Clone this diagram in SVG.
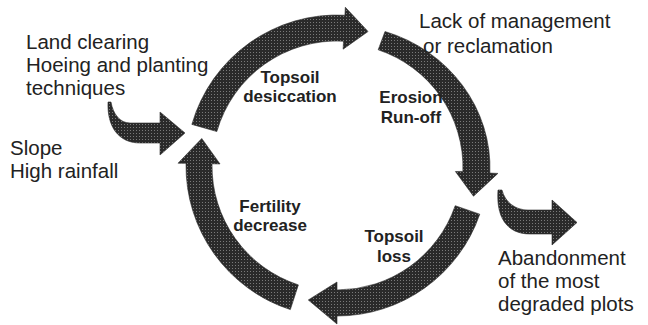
<svg xmlns="http://www.w3.org/2000/svg" width="648" height="325" viewBox="0 0 648 325">
<defs>
<pattern id="tex" width="3" height="3" patternUnits="userSpaceOnUse">
<rect width="3" height="3" fill="#2a2a2a"/>
<rect x="1" y="1" width="1" height="1" fill="#7a7a7a"/>
</pattern>
</defs>
<style>
.arr{fill:url(#tex);stroke:#2a2a2a;stroke-width:0.6}
.t{font-family:"Liberation Sans",Arial,sans-serif;font-size:20.5px;fill:#222}
.b{font-family:"Liberation Sans",Arial,sans-serif;font-size:17px;font-weight:bold;fill:#222;text-anchor:middle}
</style>
<rect width="648" height="325" fill="#ffffff"/>
<g id="connectors">
<path class="arr" d="M191.85,124.38 A151,151 0 0 1 344.90,15.21 L345.32,7.22 L368.04,31.54 L343.12,49.16 L343.54,41.17 A125,125 0 0 0 216.84,131.54 Z"/>
<path class="arr" d="M385,31.5 A150,143 0 0 1 489.9,173.1 L497.9,173.4 L473.5,196.2 L455.4,171.5 L462.9,171.4 A124,124 0 0 0 378.2,49.8 Z"/>
<path class="arr" d="M479.77,214.16 A151,151 0 0 1 337,316 L337,324 L308.31,299.98 L337,282 L337,290 A125,125 0 0 0 455.19,205.70 Z"/>
<path class="arr" d="M290.34,309.61 A151,151 0 0 1 186.02,163.36 L178.02,163.23 L201.77,138.49 L220.02,163.96 L212.02,163.82 A125,125 0 0 0 298.37,284.88 Z"/>
<path class="arr" d="M108,102 C107,126 118,143 140,143 L160,143 L160,155 L185,133 L160,112 L160,123 L130,123 C120,123 113,114 111,102 Z"/>
<path class="arr" d="M498,190 C496,216 506,234 530,234 L552,234 L552,245 L577,222.5 L552,200 L552,210 L528,210 C515,210 505,202 502,190 Z"/>
</g>
<g id="n-inputs">
<text class="t" x="26" y="49">Land clearing</text>
<text class="t" x="26" y="72">Hoeing and planting</text>
<text class="t" x="26" y="95">techniques</text>
</g>
<g id="n-slope">
<text class="t" x="10" y="155">Slope</text>
<text class="t" x="10" y="178">High rainfall</text>
</g>
<g id="n-lack">
<text class="t" x="419" y="28">Lack of management</text>
<text class="t" x="423" y="53">or reclamation</text>
</g>
<g id="n-abandon">
<text class="t" x="498" y="265">Abandonment</text>
<text class="t" x="498" y="288">of the most</text>
<text class="t" x="498" y="311">degraded plots</text>
</g>
<g id="n-desiccation">
<text class="b" x="290" y="83">Topsoil</text>
<text class="b" x="290" y="102">desiccation</text>
</g>
<g id="n-erosion">
<text class="b" x="411" y="103">Erosion</text>
<text class="b" x="411" y="123">Run-off</text>
</g>
<g id="n-fertility">
<text class="b" x="270" y="212">Fertility</text>
<text class="b" x="270" y="231">decrease</text>
</g>
<g id="n-loss">
<text class="b" x="394" y="242">Topsoil</text>
<text class="b" x="394" y="262">loss</text>
</g>
</svg>
